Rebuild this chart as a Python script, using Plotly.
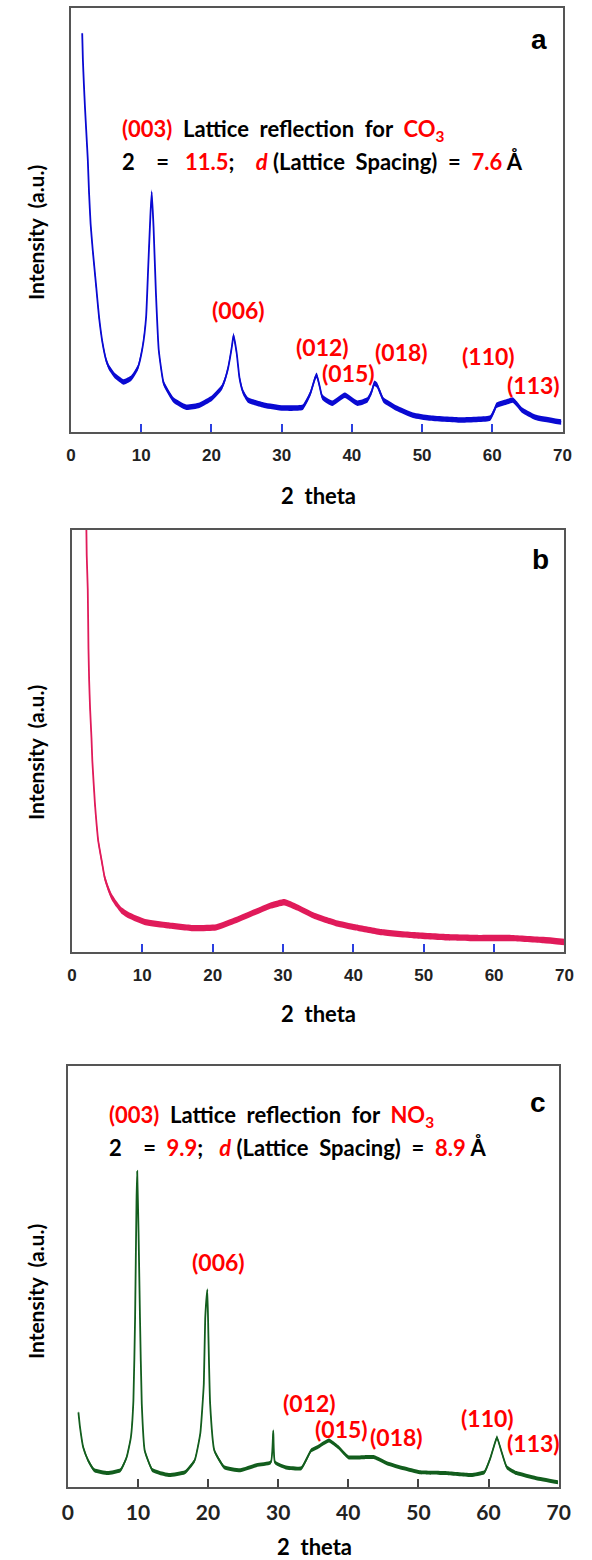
import plotly.graph_objects as go

W, H = 592, 1560

# ---------------- data ----------------
# Panel a : CO3 LDH
two_theta_a = [1.6, 1.7, 1.84, 2.0, 2.2, 2.4, 2.57, 2.8, 3.1, 3.6, 4.0, 4.5, 5.0, 5.4,
               6.3, 7.5, 8.6, 9.55, 10.2, 10.7, 11.0, 11.3, 11.5, 11.76, 12.1, 12.5,
               13.2, 14.6, 16.4, 18.3, 20.1, 21.5, 22.0, 22.4, 22.9, 23.15, 23.6, 24.0,
               24.5, 25.2, 27.5, 30.2, 33.0, 34.1, 34.5, 34.8, 35.0, 35.4, 35.8, 37.2,
               39.0, 40.8, 42.2, 42.8, 43.2, 43.6, 44.0, 44.5, 46.3, 48.7, 51.0, 55.5,
               59.7, 60.3, 60.6, 62.0, 62.9, 63.5, 64.2, 66.1, 69.8]
intensity_a = [997, 930, 870, 810, 745, 680, 600, 520, 455, 362, 287, 222, 180, 162,
               140, 125, 135, 162, 212, 287, 412, 537, 600, 512, 347, 205,
               122, 80, 62, 67, 85, 112, 135, 162, 212, 242, 197, 135,
               100, 80, 67, 60, 62, 97, 120, 137, 142, 115, 87, 72,
               92, 72, 80, 100, 122, 117, 100, 80, 60, 42, 35, 30,
               35, 55, 67, 75, 80, 70, 55, 37, 25]

# Panel b
two_theta_b = [1.95, 2.1, 2.25, 2.35, 2.45, 2.58, 2.78, 2.9, 3.27, 3.5, 3.73, 4.3, 4.65,
               5.1, 5.6, 6.25, 7.0, 8.1, 10.4, 13.6, 17.3, 20.5, 23.3, 26.0, 28.3, 30.2,
               32.0, 34.3, 36.2, 37.6, 40.3, 44.0, 48.6, 53.2, 57.8, 62.4, 67.0, 70.0]
intensity_b = [1200, 997, 912, 762, 680, 612, 537, 480, 372, 322, 280, 222, 187,
               162, 140, 122, 105, 92, 75, 67, 60, 62, 80, 100, 117, 125,
               112, 92, 80, 72, 62, 50, 42, 37, 35, 35, 30, 25]

# Panel c : NO3 LDH
two_theta_c = [1.52, 1.75, 2.2, 2.9, 3.8, 5.7, 7.5, 8.4, 9.0, 9.36, 9.6, 9.8, 9.9, 10.1,
               10.3, 10.55, 10.97, 12.1, 14.4, 16.7, 18.1, 18.9, 19.4, 19.6, 19.9, 20.05,
               20.3, 20.9, 22.3, 24.6, 26.9, 28.95, 29.3, 29.55, 31.0, 33.3, 34.7, 35.6,
               37.25, 38.6, 40.0, 42.3, 43.7, 45.5, 47.9, 50.2, 53.8, 57.5, 59.4, 60.3,
               60.9, 61.2, 61.8, 62.6, 64.0, 66.8, 69.9]
intensity_c = [188, 150, 100, 67, 42, 35, 42, 75, 125, 217, 425, 717, 795, 635,
               425, 210, 92, 42, 30, 37, 67, 135, 260, 425, 497, 385,
               210, 92, 50, 42, 55, 62, 142, 62, 50, 47, 92, 100,
               117, 100, 75, 75, 75, 60, 47, 37, 35, 30, 37, 75,
               110, 125, 92, 50, 35, 22, 12]

noise_a, noise_b, noise_c = 7, 8, 5

x_ticks = [0, 10, 20, 30, 40, 50, 60, 70]
peak_labels = ["(006)", "(012)", "(015)", "(018)", "(110)", "(113)"]
label_x_a = [19.74, 31.75, 35.5, 42.94, 55.4, 61.85]
label_y_a = [305, 212, 147, 200, 190, 117]
label_x_c = [17.46, 30.46, 35.0, 42.77, 55.8, 62.3]
label_y_c = [567, 212, 145, 125, 175, 110]

RED = "#FF0000"
COL_A = "#0A0AD2"
COL_B = "#E01B5A"
COL_C = "#135E1E"

fig = go.Figure()


def add_xrd(x, y, noise, color, xa, ya):
    lo = [v - noise for v in y]
    hi = [v + noise for v in y]
    shp = dict(shape="spline", smoothing=0.4)
    fig.add_trace(go.Scatter(x=x, y=lo, mode="lines", line=dict(width=0, color=color, **shp),
                             xaxis=xa, yaxis=ya, showlegend=False, hoverinfo="skip"))
    fig.add_trace(go.Scatter(x=x, y=hi, mode="lines", line=dict(width=0, color=color, **shp),
                             fill="tonexty", fillcolor=color,
                             xaxis=xa, yaxis=ya, showlegend=False, hoverinfo="skip"))
    fig.add_trace(go.Scatter(x=x, y=y, mode="lines",
                             line=dict(width=1.8, color=color, **shp),
                             xaxis=xa, yaxis=ya, showlegend=False))


add_xrd(two_theta_a, intensity_a, noise_a, COL_A, "x", "y")
add_xrd(two_theta_b, intensity_b, noise_b, COL_B, "x2", "y2")
add_xrd(two_theta_c, intensity_c, noise_c, COL_C, "x3", "y3")


def px(xp, yp):
    return xp / W, 1 - yp / H


domains = {
    "a": (px(67, 0)[0], px(574, 0)[0], px(0, 432)[1], px(0, 8)[1]),
    "b": (px(68, 0)[0], px(576, 0)[0], px(0, 952)[1], px(0, 530)[1]),
    "c": (px(63.7, 0)[0], px(570, 0)[0], px(0, 1487)[1], px(0, 1066)[1]),
}

tickfont_ab = dict(family="Liberation Sans", size=17, color="#222222", weight="bold")
tickfont_c = dict(family="Lato", size=21, color="#222222", weight="bold")


def xaxis_cfg(dom, tickcolor, tickfont, anchor, standoff):
    return dict(domain=[dom[0], dom[1]], range=[0, 70], tickvals=x_ticks,
                ticks="inside", ticklen=8, tickwidth=2, tickcolor=tickcolor,
                showline=True, mirror=True, linecolor="#555555", linewidth=2,
                showgrid=False, zeroline=False, tickfont=tickfont, anchor=anchor,
                ticklabelstandoff=standoff)


def yaxis_cfg(dom, anchor):
    return dict(domain=[dom[2], dom[3]], range=[0, 1060], showticklabels=False,
                ticks="", showline=True, mirror=True, linecolor="#555555", linewidth=2,
                showgrid=False, zeroline=False, anchor=anchor)


fig.update_layout(
    width=W, height=H, autosize=False,
    margin=dict(l=0, r=0, t=0, b=0),
    paper_bgcolor="white", plot_bgcolor="white",
    xaxis=xaxis_cfg(domains["a"], "#2B3FE0", tickfont_ab, "y", 7),
    yaxis=yaxis_cfg(domains["a"], "x"),
    xaxis2=xaxis_cfg(domains["b"], "#2B3FE0", tickfont_ab, "y2", 7),
    yaxis2=yaxis_cfg(domains["b"], "x2"),
    xaxis3=xaxis_cfg(domains["c"], "#444444", tickfont_c, "y3", 6),
    yaxis3=yaxis_cfg(domains["c"], "x3"),
)

ann = []
TXT = dict(family="Lato", size=22, color="black", weight="bold")
LAB = dict(family="Lato", size=23, color=RED, weight="bold")
NB = "\u00a0"

# peak labels
for lab, lx, ly in zip(peak_labels, label_x_a, label_y_a):
    ann.append(dict(x=lx, y=ly, xref="x", yref="y", text=lab, showarrow=False,
                    xanchor="left", yanchor="middle", font=LAB))
for lab, lx, ly in zip(peak_labels, label_x_c, label_y_c):
    ann.append(dict(x=lx, y=ly, xref="x3", yref="y3", text=lab, showarrow=False,
                    xanchor="left", yanchor="middle", font=LAB))


def red(s):
    return f"<span style='color:{RED}'>{s}</span>"


# panel a text
ann.append(dict(x=7.05, y=755, xref="x", yref="y", showarrow=False, xanchor="left",
                yanchor="middle", font=TXT,
                text=red("(003)") + NB + " Lattice " + NB + "reflection " + NB + "for " + NB
                + red("CO<sub>3</sub>")))
ann.append(dict(x=7.05, y=675, xref="x", yref="y", showarrow=False, xanchor="left",
                yanchor="middle", font=TXT,
                text="2" + NB * 4 + "=" + NB * 3 + red("11.5") + ";" + NB * 4 + red("<i>d</i>")
                + " (Lattice" + NB * 2 + "Spacing)" + NB * 2 + "=" + NB * 2 + red("7.6") + " Å"))
# panel c text
ann.append(dict(x=5.57, y=935, xref="x3", yref="y3", showarrow=False, xanchor="left",
                yanchor="middle", font=TXT,
                text=red("(003)") + NB + " Lattice " + NB + "reflection " + NB + "for " + NB
                + red("NO<sub>3</sub>")))
ann.append(dict(x=5.57, y=855, xref="x3", yref="y3", showarrow=False, xanchor="left",
                yanchor="middle", font=TXT,
                text="2" + NB * 4 + "=" + NB * 2 + red("9.9") + ";" + NB * 3 + red("<i>d</i>")
                + " (Lattice" + NB * 2 + "Spacing)" + NB * 2 + "=" + NB * 2 + red("8.9") + " Å"))

# panel letters
LET = dict(family="Liberation Sans", size=28, color="black", weight="bold")
ann.append(dict(x=66.7, y=980, xref="x", yref="y", text="a", showarrow=False, font=LET))
ann.append(dict(x=66.55, y=985, xref="x2", yref="y2", text="b", showarrow=False, font=LET))
ann.append(dict(x=67.1, y=967, xref="x3", yref="y3", text="c", showarrow=False, font=LET))

# axis titles
TIT = dict(family="Lato", size=22, color="black", weight="bold")
for (xp, yp) in [(322, 495), (322, 1013), (318, 1546)]:
    xx, yy = px(xp, yp)
    ann.append(dict(x=xx, y=yy, xref="paper", yref="paper", text="2" + NB * 2 + "theta",
                    showarrow=False, font=TIT, xanchor="center", yanchor="middle"))
YT = dict(family="Lato", size=21, color="black", weight="bold")
for (xp, yp) in [(30, 233), (30, 753), (30, 1292)]:
    xx, yy = px(xp, yp)
    ann.append(dict(x=xx, y=yy, xref="paper", yref="paper",
                    text="Intensity" + NB * 2 + "(a.u.)",
                    textangle=-90, showarrow=False, font=YT,
                    xanchor="center", yanchor="middle"))

fig.update_layout(annotations=ann)

fig.write_html(
    "out.html",
    config={"displayModeBar": False, "responsive": False},
    post_script="document.body.style.margin='0';"
                "document.documentElement.style.overflow='hidden';",
)
